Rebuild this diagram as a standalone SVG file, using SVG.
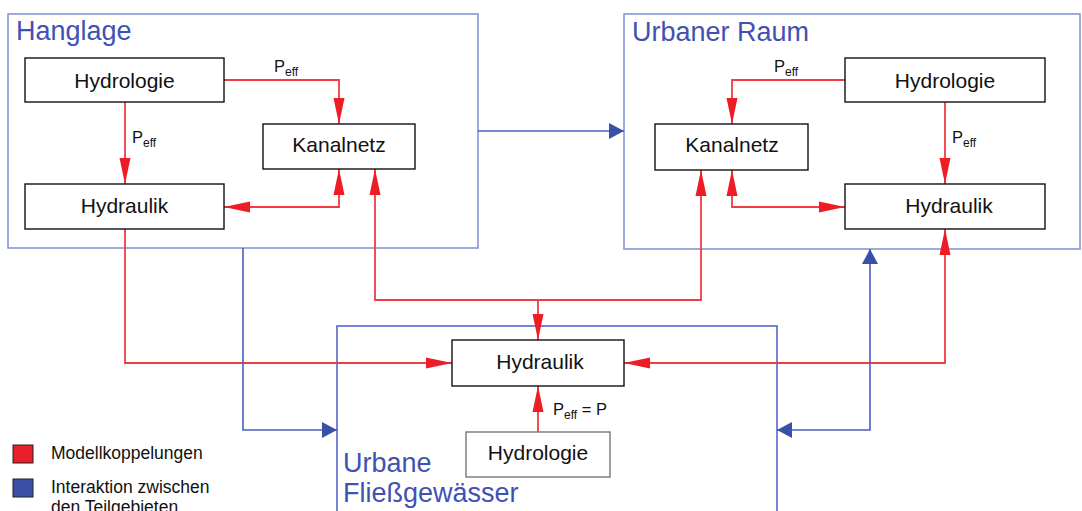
<svg xmlns="http://www.w3.org/2000/svg" width="1082" height="511" viewBox="0 0 1082 511">
<style>
text{font-family:"Liberation Sans",Arial,sans-serif;}
.area{fill:none;stroke:#7f8fd0;stroke-width:1.5;}
.area2{fill:none;stroke:#4a5cc4;stroke-width:1.5;}
.title{font-size:27px;fill:#4151b3;}
.box{fill:#fff;stroke:#111;stroke-width:1.4;}
.boxg{fill:#fff;stroke:#777;stroke-width:1.4;}
.bt{font-size:21px;fill:#111;text-anchor:middle;}
.lbl{font-size:16.5px;fill:#111;}
.sub{font-size:12px;}
.red{fill:none;stroke:#f03c44;stroke-width:1.8;}
.blue{fill:none;stroke:#4a5cc0;stroke-width:1.6;}
.leg{font-size:17.5px;fill:#111;}
</style>
<defs>
<marker id="ra" markerUnits="userSpaceOnUse" markerWidth="27" markerHeight="12" refX="26" refY="6" orient="auto-start-reverse" viewBox="0 0 27 12">
<path d="M0,0.5 L26,6 L0,11.5 Z" fill="#ee1c25"/>
</marker>
<marker id="ba" markerUnits="userSpaceOnUse" markerWidth="16" markerHeight="17" refX="15" refY="8.5" orient="auto-start-reverse" viewBox="0 0 16 17">
<path d="M0,0.5 L15,8.5 L0,16.5 Z" fill="#3a4fa8"/>
</marker>
</defs>

<g id="area-hanglage">
<rect class="area" x="8" y="14" width="470" height="234"/>
<text class="title" x="16" y="40">Hanglage</text>
</g>
<g id="area-urbaner-raum">
<rect class="area" x="624" y="14" width="456" height="235"/>
<text class="title" x="632" y="41">Urbaner Raum</text>
</g>
<g id="area-fliessgewaesser">
<rect class="area2" x="337" y="326" width="440" height="200"/>
<text class="title" x="343" y="472">Urbane</text>
<text class="title" x="343" y="502">Fließgewässer</text>
</g>

<g id="connectors">
<g id="red-connectors">
<path class="red" d="M125,102 V184" marker-end="url(#ra)"/>
<path class="red" d="M224,80 H339 V124" marker-end="url(#ra)"/>
<path class="red" d="M224,207 H339 V169" marker-start="url(#ra)" marker-end="url(#ra)"/>
<path class="red" d="M125,229 V363 H452" marker-end="url(#ra)"/>
<path class="red" d="M375,169 V300 H701 V170" marker-start="url(#ra)" marker-end="url(#ra)"/>
<path class="red" d="M538,300 V340" marker-end="url(#ra)"/>
<path class="red" d="M845,80 H732 V124" marker-end="url(#ra)"/>
<path class="red" d="M945,102 V184" marker-end="url(#ra)"/>
<path class="red" d="M732,170 V207 H845" marker-start="url(#ra)" marker-end="url(#ra)"/>
<path class="red" d="M945,229 V363 H624" marker-start="url(#ra)" marker-end="url(#ra)"/>
<path class="red" d="M538,432 V386" marker-end="url(#ra)"/>
</g>
<g id="blue-connectors">
<path class="blue" d="M478,131 H624" marker-end="url(#ba)"/>
<path class="blue" d="M243,248 V430 H337" marker-end="url(#ba)"/>
<path class="blue" d="M870,249 V430 H777" marker-start="url(#ba)" marker-end="url(#ba)"/>
</g>
<g id="connector-labels">
<text class="lbl" x="274" y="72">P<tspan class="sub" dy="4">eff</tspan></text>
<text class="lbl" x="132" y="143">P<tspan class="sub" dy="4">eff</tspan></text>
<text class="lbl" x="774" y="72">P<tspan class="sub" dy="4">eff</tspan></text>
<text class="lbl" x="952" y="143">P<tspan class="sub" dy="4">eff</tspan></text>
<text class="lbl" x="553" y="415">P<tspan class="sub" dy="4">eff</tspan><tspan dy="-4"> = P</tspan></text>
</g>
</g>

<g id="hang-hydrologie"><rect class="box" x="25" y="58" width="199" height="44"/><text class="bt" x="124.5" y="88">Hydrologie</text></g>
<g id="hang-kanalnetz"><rect class="box" x="263" y="124" width="152" height="45"/><text class="bt" x="339" y="152">Kanalnetz</text></g>
<g id="hang-hydraulik"><rect class="box" x="25" y="184" width="199" height="45"/><text class="bt" x="124.5" y="213">Hydraulik</text></g>

<g id="urban-hydrologie"><rect class="box" x="845" y="58" width="200" height="44"/><text class="bt" x="945" y="88">Hydrologie</text></g>
<g id="urban-kanalnetz"><rect class="box" x="655" y="124" width="153" height="46"/><text class="bt" x="732" y="152">Kanalnetz</text></g>
<g id="urban-hydraulik"><rect class="box" x="845" y="184" width="200" height="45"/><text class="bt" x="949" y="213">Hydraulik</text></g>

<g id="fluss-hydraulik"><rect class="box" x="452" y="340" width="172" height="46"/><text class="bt" x="540" y="369">Hydraulik</text></g>
<g id="fluss-hydrologie"><rect class="boxg" x="466" y="432" width="144" height="45"/><text class="bt" x="538" y="460">Hydrologie</text></g>

<g id="legend">
<rect x="13" y="445" width="20" height="18" fill="#e8202a" stroke="#222" stroke-width="1"/>
<text class="leg" x="51" y="459">Modellkoppelungen</text>
<rect x="13" y="479" width="20" height="18" fill="#3a4fa5" stroke="#222" stroke-width="1"/>
<text class="leg" x="51" y="493">Interaktion zwischen</text>
<text class="leg" x="51" y="513">den Teilgebieten</text>
</g>
</svg>
